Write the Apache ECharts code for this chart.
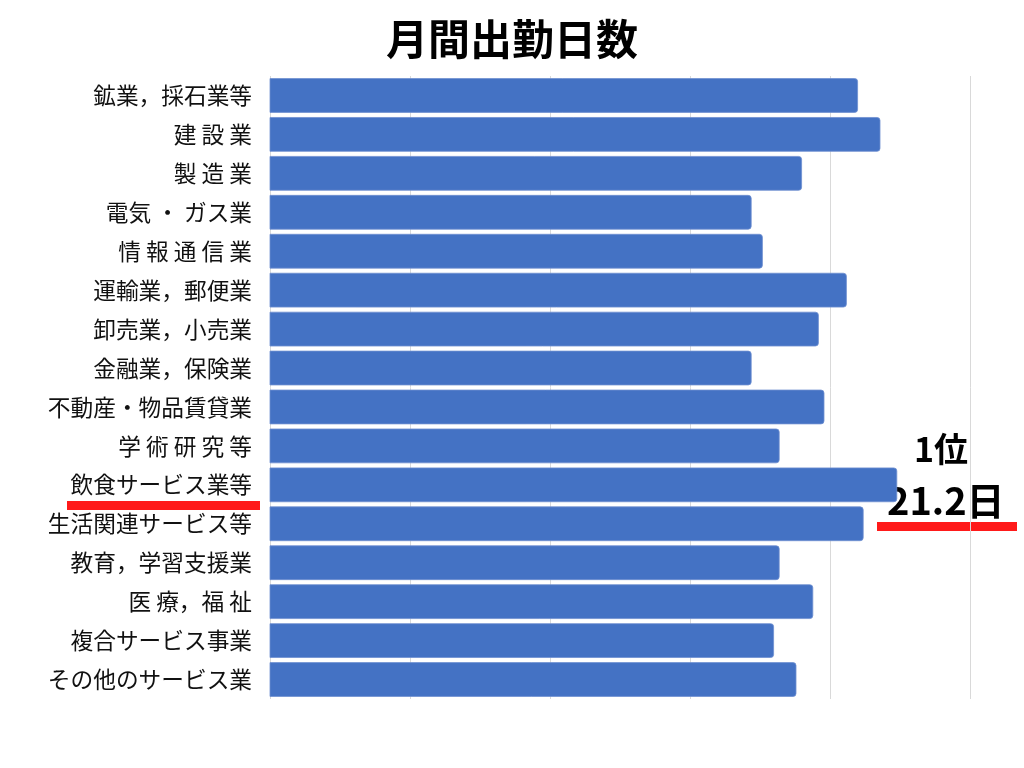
<!DOCTYPE html>
<html>
<head>
<meta charset="utf-8">
<script src="https://cdn.jsdelivr.net/npm/echarts@6/dist/echarts.min.js"></script>
<style>
html,body{margin:0;padding:0;background:#fff;}
#main{width:1024px;height:768px;}
</style>
</head>
<body>
<div id="main"></div>
<script>
const titleText = '月間出勤日数';
const categories = [
  '鉱業，採石業等', '建 設 業', '製 造 業', '電気 ・ ガス業', '情 報 通 信 業',
  '運輸業，郵便業', '卸売業，小売業', '金融業，保険業', '不動産・物品賃貸業', '学 術 研 究 等',
  '飲食サービス業等', '生活関連サービス等', '教育，学習支援業', '医 療，福 祉', '複合サービス事業',
  'その他のサービス業'
];
const workDays = [
  21.10, 21.18, 20.90, 20.72, 20.76,
  21.06, 20.96, 20.72, 20.98, 20.82,
  21.24, 21.12, 20.82, 20.94, 20.80,
  20.88
];
const axisMin = 19;
const axisMax = 21.5;
const axisStep = 0.5;
const rankText = '1位';
const rankValueText = '21.2日';

const FONT = '"Noto Sans CJK JP", "Noto Sans", sans-serif';
const chart = echarts.init(document.getElementById('main'));
chart.setOption({
  animation: false,
  backgroundColor: '#ffffff',
  title: {
    text: titleText,
    left: 'center',
    top: 13,
    textStyle: { fontFamily: FONT, fontSize: 42, fontWeight: 'bold', color: '#000' }
  },
  grid: { left: 270, right: 54, top: 76, bottom: 69, containLabel: false },
  xAxis: {
    type: 'value',
    min: axisMin, max: axisMax, interval: axisStep,
    axisLabel: { show: false },
    axisTick: { show: false },
    axisLine: { show: false },
    splitLine: { show: true, lineStyle: { color: '#d9d9d9', width: 1 } }
  },
  yAxis: {
    type: 'category',
    data: categories,
    inverse: true,
    axisTick: { show: false },
    axisLine: { show: false },
    axisLabel: { margin: 18, fontFamily: FONT, fontSize: 22.7, color: '#111' }
  },
  series: [{
    type: 'bar',
    data: workDays,
    barCategoryGap: '11%',
    itemStyle: { color: '#4472c4', borderRadius: [0, 3, 3, 0], borderColor: '#6f8fd0', borderWidth: 0.8 }
  }],
  graphic: [
    { type: 'text', left: 914, top: 432, style: { text: rankText, font: 'bold 34px ' + FONT, fill: '#000' } },
    { type: 'text', left: 887, top: 482, style: { text: rankValueText, font: 'bold 38px ' + FONT, fill: '#000' } },
    { type: 'rect', shape: { x: 877, y: 522, width: 140, height: 9 }, style: { fill: '#ff1a1a' } },
    { type: 'rect', shape: { x: 67, y: 501, width: 193, height: 9 }, style: { fill: '#ff1a1a' } }
  ]
});
</script>
</body>
</html>
